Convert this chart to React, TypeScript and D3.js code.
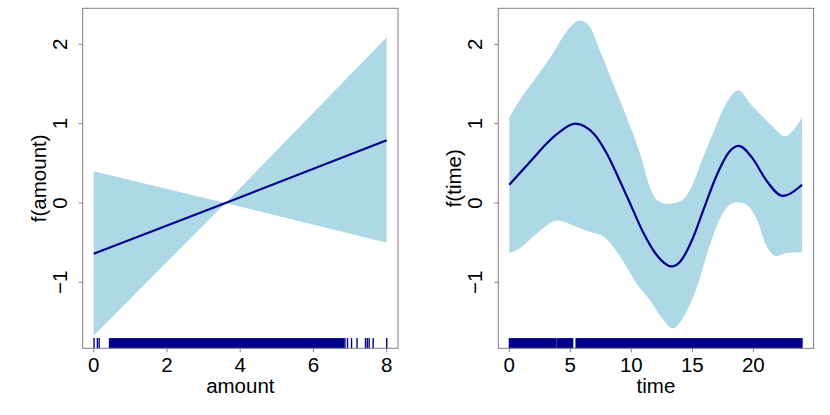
import React from "react";
import * as d3 from "d3";

// ---- Data ----
const amountX = [0, 3.6, 8];
const amountFit = [-0.64, 0, 0.79];
const amountUpper = [0.4, 0, 2.09];
const amountLower = [-1.67, 0, -0.5];
const amountRugTicks = [0.01, 0.1, 0.15, 6.86, 6.93, 7.04, 7.19, 7.42, 7.47, 7.52, 7.63, 8.0];
const amountRugBlocks: [number, number][] = [[0.43, 6.83]];

const timeFitT = [0, 1, 2, 3, 4, 5.4, 7, 8, 9, 10, 11, 12, 13.3, 14, 15, 16, 17, 18, 18.8, 20, 21, 22.4, 24];
const timeFitV = [0.23, 0.4, 0.57, 0.74, 0.88, 1.0, 0.86, 0.62, 0.3, -0.04, -0.38, -0.64, -0.8, -0.74, -0.46, -0.05, 0.35, 0.64, 0.72, 0.55, 0.3, 0.09, 0.23];
const timeUpperT = [0, 0.87, 2.24, 3.6, 4.7, 5.8, 6.6, 7.4, 8.5, 9.6, 10.7, 11.5, 12.1, 12.9, 14, 14.8, 15.9, 16.7, 17.8, 18.8, 19.7, 20.5, 21.6, 22.6, 23.3, 24];
const timeUpperV = [1.08, 1.3, 1.59, 1.89, 2.16, 2.3, 2.22, 1.93, 1.51, 1.09, 0.63, 0.21, 0.04, -0.01, 0.02, 0.16, 0.58, 0.88, 1.26, 1.42, 1.26, 1.13, 0.96, 0.84, 0.92, 1.08];
const timeLowerT = [0, 0.87, 2.0, 3.1, 3.9, 4.7, 5.8, 6.9, 7.7, 8.5, 9.6, 10.4, 11.5, 12.6, 13.4, 14.3, 15.4, 16.4, 17.5, 18.6, 19.3, 20.3, 21.1, 21.9, 22.7, 24];
const timeLowerV = [-0.63, -0.57, -0.42, -0.28, -0.22, -0.25, -0.32, -0.38, -0.42, -0.55, -0.8, -1.01, -1.22, -1.47, -1.58, -1.43, -1.05, -0.55, -0.13, 0.01, -0.01, -0.21, -0.55, -0.67, -0.63, -0.62];
const timeRugTicks: number[] = [];
const timeRugBlocks: [number, number][] = [[0, 3.84], [3.95, 5.2], [5.47, 24]];

const amountXTicks = [0, 2, 4, 6, 8];
const timeXTicks = [0, 5, 10, 15, 20];
const yTicks = [-1, 0, 1, 2];

// ---- Styles ----
const FONT = "'Liberation Sans', Arial, Helvetica, sans-serif";
const FS = 20.5;
const BAND = "#ADD8E6";
const DARK = "#00008B";
const BOX = "#808080";

type PanelProps = {
  left: number;
  xDomain: [number, number];
  xRange: [number, number];
  xTicks: number[];
  xLabel: string;
  yLabel: string;
  fitT: number[];
  fitV: number[];
  upT: number[];
  upV: number[];
  loT: number[];
  loV: number[];
  rugTicks: number[];
  rugBlocks: [number, number][];
  curve: d3.CurveFactory;
};

const TOP = 8.3;
const BOTTOM = 348.3;
const WIDTH = 315.3;

function Panel(p: PanelProps) {
  const x = d3.scaleLinear().domain(p.xDomain).range(p.xRange);
  const y = d3.scaleLinear().domain([-1, 2]).range([282.3, 44.3]);
  const line = d3
    .line<[number, number]>()
    .x((d) => x(d[0]))
    .y((d) => y(d[1]))
    .curve(p.curve);
  const fitPts = p.fitT.map((t, i) => [t, p.fitV[i]] as [number, number]);
  const upPts = p.upT.map((t, i) => [t, p.upV[i]] as [number, number]);
  const loPts = p.loT.map((t, i) => [t, p.loV[i]] as [number, number]).reverse();
  const bandPath = (line(upPts) || "") + "L" + (line(loPts) || "").slice(1) + "Z";
  const right = p.left + WIDTH;
  const rugH = 10.2;
  const fmt = (v: number) => (v < 0 ? "\u2212" + Math.abs(v) : String(v));
  return (
    <g>
      <path d={bandPath} fill={BAND} stroke="none" />
      <path d={line(fitPts) || ""} fill="none" stroke={DARK} strokeWidth={2.2} />
      {p.rugBlocks.map((b, i) => (
        <rect key={"b" + i} x={x(b[0]) - 0.6} y={BOTTOM - rugH} width={x(b[1]) - x(b[0]) + 1.2} height={rugH} fill={DARK} />
      ))}
      {p.rugTicks.map((t, i) => (
        <line key={"r" + i} x1={x(t)} x2={x(t)} y1={BOTTOM - rugH} y2={BOTTOM} stroke={DARK} strokeWidth={1.4} />
      ))}
      <rect x={p.left} y={TOP} width={WIDTH} height={BOTTOM - TOP} fill="none" stroke={BOX} strokeWidth={1} />
      {p.xTicks.map((t) => (
        <g key={"x" + t}>
          <line x1={x(t)} x2={x(t)} y1={BOTTOM} y2={BOTTOM + 4} stroke={BOX} strokeWidth={1} />
          <text x={x(t)} y={372} textAnchor="middle" fontFamily={FONT} fontSize={FS} fill="#000">
            {fmt(t)}
          </text>
        </g>
      ))}
      {yTicks.map((t) => (
        <g key={"y" + t}>
          <line x1={p.left - 4} x2={p.left} y1={y(t)} y2={y(t)} stroke={BOX} strokeWidth={1} />
          <text
            transform={`translate(${p.left - 16},${y(t)}) rotate(-90)`}
            textAnchor="middle"
            fontFamily={FONT}
            fontSize={FS}
            fill="#000"
          >
            {fmt(t)}
          </text>
        </g>
      ))}
      <text x={(p.left + right) / 2} y={393} textAnchor="middle" fontFamily={FONT} fontSize={FS} fill="#000">
        {p.xLabel}
      </text>
      <text
        transform={`translate(${p.left - 37},${(TOP + BOTTOM) / 2}) rotate(-90)`}
        textAnchor="middle"
        fontFamily={FONT}
        fontSize={FS}
        fill="#000"
      >
        {p.yLabel}
      </text>
    </g>
  );
}

export default function App() {
  return (
    <svg width={830} height={415} style={{ position: "absolute", left: 0, top: 0, background: "#fff" }}>
      <rect x={0} y={0} width={830} height={415} fill="#fff" />
      <Panel
        left={82.7}
        xDomain={[0, 8]}
        xRange={[93.7, 386.7]}
        xTicks={amountXTicks}
        xLabel="amount"
        yLabel="f(amount)"
        fitT={amountX}
        fitV={amountFit}
        upT={amountX}
        upV={amountUpper}
        loT={amountX}
        loV={amountLower}
        rugTicks={amountRugTicks}
        rugBlocks={amountRugBlocks}
        curve={d3.curveLinear}
      />
      <Panel
        left={498.3}
        xDomain={[0, 20]}
        xRange={[509.3, 753.3]}
        xTicks={timeXTicks}
        xLabel="time"
        yLabel="f(time)"
        fitT={timeFitT}
        fitV={timeFitV}
        upT={timeUpperT}
        upV={timeUpperV}
        loT={timeLowerT}
        loV={timeLowerV}
        rugTicks={timeRugTicks}
        rugBlocks={timeRugBlocks}
        curve={d3.curveMonotoneX}
      />
    </svg>
  );
}
